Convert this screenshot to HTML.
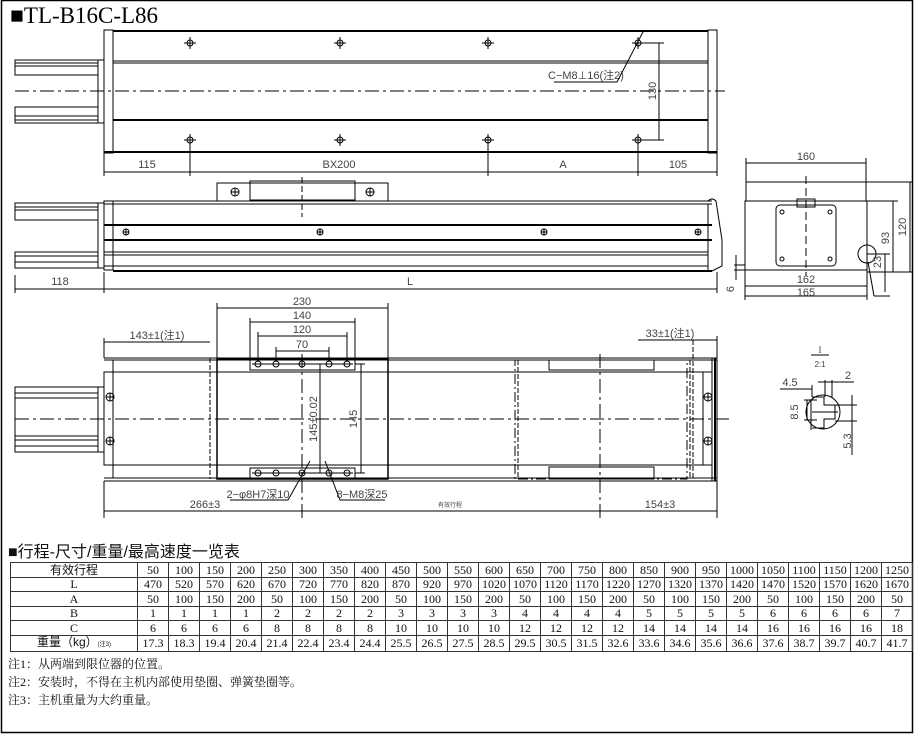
<!DOCTYPE html>
<html><head><meta charset="utf-8"><style>
html,body{margin:0;padding:0;background:#fff;}
body{width:916px;height:734px;position:relative;overflow:hidden;}
svg{position:absolute;left:0;top:0;}
table{position:absolute;left:10px;top:562px;width:902px;border-collapse:collapse;table-layout:fixed;font-family:"Liberation Serif","Noto Serif CJK SC",serif;font-size:12px;color:#111;}
td{border:1px solid #333;height:13.5px;padding:0;line-height:12px;text-align:center;white-space:nowrap;overflow:hidden;}
.cjk{font-family:"Liberation Sans","Noto Sans CJK SC",sans-serif;}
.notes{position:absolute;left:8px;font-family:"Liberation Serif","Noto Serif CJK SC",serif;font-size:12px;color:#111;}
</style></head><body>
<svg width="916" height="734" viewBox="0 0 916 734" font-family="Liberation Sans, sans-serif" fill="none" stroke="#000" stroke-width="1">
<rect x="1.5" y="0.5" width="911" height="732" stroke-width="1.5"/>
<text x="10" y="23" fill="#000" stroke="none" font-family="Liberation Serif, serif" font-size="23">■TL-B16C-L86</text>
<!-- TOP VIEW -->
<g>
<rect x="15" y="60" width="83" height="15"/><line x1="15" y1="63" x2="98" y2="63"/><line x1="15" y1="66" x2="98" y2="66"/>
<rect x="15" y="107" width="83" height="16"/><line x1="15" y1="116" x2="98" y2="116"/><line x1="15" y1="120" x2="98" y2="120"/>
<rect x="98" y="60" width="6" height="63"/>
<rect x="104" y="30" width="9" height="123"/>
<line x1="113" y1="31" x2="708" y2="31" stroke-width="2"/>
<line x1="113" y1="61" x2="708" y2="61"/><line x1="113" y1="63" x2="708" y2="63"/>
<line x1="113" y1="120" x2="708" y2="120" stroke-width="2"/>
<line x1="104" y1="152" x2="717" y2="152" stroke-width="2"/>
<rect x="708" y="30" width="9" height="123"/>
<line x1="15" y1="91" x2="725" y2="91" stroke-dasharray="14,4,3,4"/>
<g id="h">
<circle cx="190" cy="43" r="3"/><line x1="184" y1="43" x2="196" y2="43"/><line x1="190" y1="37" x2="190" y2="49"/>
</g>
<use href="#h" x="150"/><use href="#h" x="298"/><use href="#h" x="448"/>
<use href="#h" y="97"/><use href="#h" x="150" y="97"/><use href="#h" x="298" y="97"/><use href="#h" x="448" y="97"/>
<line x1="104" y1="153" x2="104" y2="176"/><line x1="190" y1="140" x2="190" y2="176"/><line x1="488" y1="140" x2="488" y2="176"/><line x1="638" y1="140" x2="638" y2="176"/><line x1="717" y1="153" x2="717" y2="176"/>
<line x1="104" y1="172" x2="717" y2="172"/>
<g fill="#444" stroke="none" font-size="11" text-anchor="middle">
<text x="147" y="168">115</text><text x="339" y="168">BX200</text><text x="563" y="168">A</text><text x="678" y="168">105</text>
<text x="586" y="79">C−M8⊥16(注2)</text>
<text transform="translate(656,91) rotate(-90)">130</text>
</g>
<polyline points="554,82 617,82 644,30"/>
<line x1="638" y1="43" x2="664" y2="43"/><line x1="638" y1="140" x2="664" y2="140"/><line x1="659" y1="43" x2="659" y2="140"/>
</g>
<!-- SIDE VIEW -->
<g>
<rect x="217" y="183" width="171" height="18"/><rect x="250" y="181" width="105" height="19"/>
<circle cx="235" cy="192" r="4"/><line x1="231" y1="192" x2="239" y2="192"/><line x1="235" y1="188" x2="235" y2="196"/>
<circle cx="370" cy="192" r="4"/><line x1="366" y1="192" x2="374" y2="192"/><line x1="370" y1="188" x2="370" y2="196"/>
<line x1="302" y1="177" x2="302" y2="217" stroke-dasharray="6,3"/>
<rect x="15" y="203" width="83" height="17"/><line x1="15" y1="207" x2="98" y2="207"/><line x1="15" y1="210" x2="98" y2="210"/>
<rect x="15" y="252" width="83" height="16"/><line x1="15" y1="256" x2="98" y2="256"/><line x1="15" y1="262" x2="98" y2="262"/>
<rect x="98" y="203" width="6" height="65"/>
<rect x="104" y="201" width="9" height="69"/>
<line x1="104" y1="201" x2="712" y2="201"/><line x1="104" y1="204" x2="712" y2="204"/>
<line x1="104" y1="225" x2="712" y2="225" stroke-width="2"/><line x1="104" y1="240" x2="712" y2="240" stroke-width="2"/>
<line x1="104" y1="252" x2="708" y2="252"/><line x1="104" y1="255" x2="708" y2="255"/><line x1="104" y1="266" x2="708" y2="266"/>
<line x1="113" y1="271" x2="712" y2="271" stroke-width="2"/>
<line x1="708" y1="204" x2="708" y2="271"/>
<path d="M708,201 Q712,197 716,201 L722,240 L722,266 L712,271"/>
<g id="s"><circle cx="126" cy="232" r="3"/><line x1="123" y1="232" x2="129" y2="232"/><line x1="126" y1="229" x2="126" y2="235"/></g>
<use href="#s" x="194"/><use href="#s" x="418"/><use href="#s" x="572"/>
<line x1="15" y1="275" x2="15" y2="293"/><line x1="104" y1="272" x2="104" y2="293"/><line x1="717" y1="272" x2="717" y2="293"/>
<line x1="15" y1="289" x2="717" y2="289"/>
<g fill="#444" stroke="none" font-size="11" text-anchor="middle"><text x="60" y="285">118</text><text x="410" y="285">L</text></g>
</g>
<!-- END VIEW -->
<g>
<rect x="746" y="182" width="120" height="19"/>
<rect x="745" y="201" width="122" height="69"/>
<rect x="776" y="205" width="60" height="61" rx="4"/>
<rect x="797" y="199" width="18" height="8"/>
<circle cx="782" cy="212" r="2"/><circle cx="830" cy="212" r="2"/><circle cx="782" cy="259" r="2"/><circle cx="830" cy="259" r="2"/>
<line x1="806" y1="176" x2="806" y2="276" stroke-dasharray="8,4"/>
<line x1="866" y1="182" x2="912" y2="182"/><line x1="867" y1="272" x2="912" y2="272"/>
<line x1="867" y1="201" x2="898" y2="201"/>
<line x1="910" y1="182" x2="910" y2="272"/><line x1="893" y1="201" x2="893" y2="272"/>
<line x1="746" y1="158" x2="746" y2="182"/><line x1="866" y1="158" x2="866" y2="182"/><line x1="746" y1="163" x2="866" y2="163"/>
<line x1="745" y1="270" x2="745" y2="300"/><line x1="867" y1="270" x2="867" y2="300"/>
<line x1="745" y1="286" x2="867" y2="286"/><line x1="745" y1="296" x2="867" y2="296"/>
<line x1="734" y1="265" x2="745" y2="265"/><line x1="734" y1="270" x2="745" y2="270"/><line x1="736" y1="255" x2="736" y2="280"/>
<circle cx="867" cy="254" r="9"/><line x1="868" y1="262" x2="874" y2="296"/><line x1="874" y1="296" x2="890" y2="296"/>
<line x1="867" y1="254" x2="890" y2="254"/><line x1="885" y1="254" x2="885" y2="292"/>
<g fill="#444" stroke="none" font-size="11" text-anchor="middle">
<text x="806" y="160">160</text><text x="806" y="283">162</text><text x="806" y="296">165</text>
<text transform="translate(906,227) rotate(-90)">120</text>
<text transform="translate(889,238) rotate(-90)">93</text>
<text transform="translate(881,262) rotate(-90)">23</text>
<text transform="translate(734,289) rotate(-90)">6</text>
</g>
</g>
<!-- BOTTOM VIEW -->
<g>
<rect x="15" y="387" width="83" height="65"/><line x1="15" y1="393" x2="98" y2="393"/><line x1="15" y1="398" x2="98" y2="398"/>
<line x1="15" y1="436" x2="98" y2="436"/><line x1="15" y1="440" x2="98" y2="440"/><line x1="15" y1="446" x2="98" y2="446"/>
<rect x="98" y="387" width="6" height="65"/>
<rect x="104" y="372" width="9" height="93"/>
<g id="bs"><circle cx="110" cy="397" r="4"/><line x1="106" y1="397" x2="114" y2="397"/><line x1="110" y1="393" x2="110" y2="401"/></g>
<use href="#bs" y="44"/><use href="#bs" x="598"/><use href="#bs" x="598" y="44"/>
<line x1="104" y1="358" x2="717" y2="358"/><line x1="104" y1="360" x2="717" y2="360"/>
<line x1="104" y1="372" x2="703" y2="372"/><line x1="104" y1="465" x2="703" y2="465"/>
<line x1="104" y1="478" x2="717" y2="478"/><line x1="104" y1="481" x2="717" y2="481"/>
<line x1="113" y1="360" x2="113" y2="478"/>
<rect x="217" y="359" width="171" height="120" stroke-width="1.5"/>
<line x1="210" y1="358" x2="210" y2="479" stroke-dasharray="5,2"/>
<rect x="250" y="359" width="105" height="11"/><rect x="250" y="468" width="105" height="11"/>
<g>
<circle cx="258" cy="364" r="3"/><circle cx="276" cy="364" r="3"/><circle cx="302" cy="364" r="3"/><circle cx="329" cy="364" r="3"/><circle cx="347" cy="364" r="3"/>
<circle cx="258" cy="473" r="3"/><circle cx="276" cy="473" r="3"/><circle cx="302" cy="473" r="3"/><circle cx="329" cy="473" r="3"/><circle cx="347" cy="473" r="3"/>
<line x1="252" y1="364" x2="353" y2="364"/><line x1="252" y1="473" x2="353" y2="473"/>
</g>
<line x1="15" y1="419" x2="730" y2="419" stroke-dasharray="14,4,3,4"/>
<line x1="302" y1="354" x2="302" y2="518" stroke-dasharray="14,4,3,4"/>
<line x1="600" y1="354" x2="600" y2="518" stroke-dasharray="14,4,3,4"/>
<rect x="515" y="360" width="172" height="119" stroke-dasharray="10,3,2,3"/>
<line x1="518" y1="360" x2="518" y2="479" stroke-dasharray="5,2"/>
<rect x="549" y="360" width="105" height="10"/><rect x="549" y="467" width="105" height="12"/>
<line x1="690" y1="360" x2="690" y2="479" stroke-dasharray="5,2"/><line x1="693" y1="340" x2="693" y2="479" stroke-dasharray="5,2"/>
<rect x="703" y="372" width="9" height="93"/>
<line x1="712" y1="358" x2="712" y2="481"/><line x1="715" y1="358" x2="715" y2="481" stroke-width="2"/><line x1="717" y1="336" x2="717" y2="518"/>
<!-- dims -->
<line x1="217" y1="303" x2="217" y2="359"/><line x1="388" y1="303" x2="388" y2="359"/><line x1="217" y1="308" x2="388" y2="308"/>
<line x1="250" y1="318" x2="250" y2="359"/><line x1="355" y1="318" x2="355" y2="359"/><line x1="250" y1="322" x2="355" y2="322"/>
<line x1="258" y1="332" x2="258" y2="362"/><line x1="347" y1="332" x2="347" y2="362"/><line x1="258" y1="336" x2="347" y2="336"/>
<line x1="276" y1="347" x2="276" y2="362"/><line x1="329" y1="347" x2="329" y2="362"/><line x1="276" y1="351" x2="329" y2="351"/>
<line x1="104" y1="338" x2="104" y2="358"/><line x1="104" y1="342" x2="210" y2="342"/>
<line x1="320" y1="364" x2="320" y2="473"/>
<line x1="355" y1="364" x2="365" y2="364"/><line x1="355" y1="473" x2="365" y2="473"/><line x1="361" y1="364" x2="361" y2="473"/>
<line x1="638" y1="340" x2="717" y2="340"/>
<line x1="104" y1="481" x2="104" y2="518"/><line x1="104" y1="511" x2="717" y2="511"/>
<polyline points="230,500 288,500 310,461"/><polyline points="385,500 340,500 325,461"/>
<g fill="#444" stroke="none" font-size="11" text-anchor="middle">
<text x="302" y="305">230</text><text x="302" y="319">140</text><text x="302" y="333">120</text><text x="302" y="348">70</text>
<text x="157" y="339">143±1(注1)</text><text x="670" y="337">33±1(注1)</text>
<text transform="translate(317,419) rotate(-90)">145±0.02</text>
<text transform="translate(357,419) rotate(-90)">145</text>
<text x="258" y="498">2−φ8H7深10</text><text x="362" y="498">8−M8深25</text>
<text x="205" y="508">266±3</text><text x="660" y="508">154±3</text>
<text x="450" y="507" font-size="6">有效行程</text>
</g>
</g>
<!-- DETAIL I -->
<g>
<circle cx="823" cy="412" r="17"/>
<path d="M812,397 L824,397 L824,405 L835,405 L835,419 L824,419 L824,428 L812,428"/>
<line x1="812" y1="412" x2="838" y2="412"/>
<line x1="811" y1="355" x2="829" y2="355"/>
<line x1="811" y1="400" x2="811" y2="430"/><line x1="804" y1="400" x2="817" y2="400"/><line x1="804" y1="420" x2="817" y2="420"/><line x1="807" y1="400" x2="807" y2="420"/>
<line x1="780" y1="389" x2="812" y2="389"/><line x1="812" y1="385" x2="812" y2="397"/>
<line x1="825" y1="380" x2="825" y2="397"/><line x1="832" y1="380" x2="832" y2="397"/><line x1="818" y1="382" x2="854" y2="382"/>
<line x1="835" y1="405" x2="857" y2="405"/><line x1="835" y1="421" x2="857" y2="421"/><line x1="852" y1="395" x2="852" y2="455"/>
<g fill="#444" stroke="none" font-size="11" text-anchor="middle">
<text x="820" y="353" font-family="Liberation Serif, serif" font-size="9">I</text><text x="820" y="367" font-size="8">2:1</text>
<text x="790" y="386">4.5</text><text x="848" y="379">2</text>
<text transform="translate(798,412) rotate(-90)">8.5</text>
<text transform="translate(851,441) rotate(-90)">5.3</text>
</g>
</g>
<text x="8" y="557" fill="#111" stroke="none" font-family="Liberation Sans, Noto Sans CJK SC, sans-serif" font-size="16">■行程-尺寸/重量/最高速度一览表</text>
</svg>
<table>
<colgroup><col style="width:127px"><col span="25" style="width:31px"></colgroup>
<tr><td class="cjk">有效行程</td><td>50</td><td>100</td><td>150</td><td>200</td><td>250</td><td>300</td><td>350</td><td>400</td><td>450</td><td>500</td><td>550</td><td>600</td><td>650</td><td>700</td><td>750</td><td>800</td><td>850</td><td>900</td><td>950</td><td>1000</td><td>1050</td><td>1100</td><td>1150</td><td>1200</td><td>1250</td></tr>
<tr><td>L</td><td>470</td><td>520</td><td>570</td><td>620</td><td>670</td><td>720</td><td>770</td><td>820</td><td>870</td><td>920</td><td>970</td><td>1020</td><td>1070</td><td>1120</td><td>1170</td><td>1220</td><td>1270</td><td>1320</td><td>1370</td><td>1420</td><td>1470</td><td>1520</td><td>1570</td><td>1620</td><td>1670</td></tr>
<tr><td>A</td><td>50</td><td>100</td><td>150</td><td>200</td><td>50</td><td>100</td><td>150</td><td>200</td><td>50</td><td>100</td><td>150</td><td>200</td><td>50</td><td>100</td><td>150</td><td>200</td><td>50</td><td>100</td><td>150</td><td>200</td><td>50</td><td>100</td><td>150</td><td>200</td><td>50</td></tr>
<tr><td>B</td><td>1</td><td>1</td><td>1</td><td>1</td><td>2</td><td>2</td><td>2</td><td>2</td><td>3</td><td>3</td><td>3</td><td>3</td><td>4</td><td>4</td><td>4</td><td>4</td><td>5</td><td>5</td><td>5</td><td>5</td><td>6</td><td>6</td><td>6</td><td>6</td><td>7</td></tr>
<tr><td>C</td><td>6</td><td>6</td><td>6</td><td>6</td><td>8</td><td>8</td><td>8</td><td>8</td><td>10</td><td>10</td><td>10</td><td>10</td><td>12</td><td>12</td><td>12</td><td>12</td><td>14</td><td>14</td><td>14</td><td>14</td><td>16</td><td>16</td><td>16</td><td>16</td><td>18</td></tr>
<tr><td class="cjk">重量（kg）<span style="font-size:6px">(注3)</span></td><td>17.3</td><td>18.3</td><td>19.4</td><td>20.4</td><td>21.4</td><td>22.4</td><td>23.4</td><td>24.4</td><td>25.5</td><td>26.5</td><td>27.5</td><td>28.5</td><td>29.5</td><td>30.5</td><td>31.5</td><td>32.6</td><td>33.6</td><td>34.6</td><td>35.6</td><td>36.6</td><td>37.6</td><td>38.7</td><td>39.7</td><td>40.7</td><td>41.7</td></tr>
</table>
<div class="notes" style="top:655px">注1：从两端到限位器的位置。</div>
<div class="notes" style="top:673px">注2：安装时，不得在主机内部使用垫圈、弹簧垫圈等。</div>
<div class="notes" style="top:691px">注3：主机重量为大约重量。</div>
</body></html>
